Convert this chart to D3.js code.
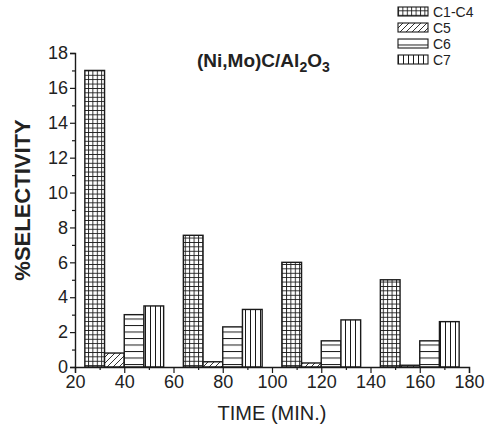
<!DOCTYPE html>
<html><head><meta charset="utf-8">
<script src="https://cdn.jsdelivr.net/npm/d3@7"></script>
<style>body{margin:0;background:#fff;}svg{display:block;font-family:"Liberation Sans",Arial,sans-serif;}</style>
</head><body>
<script>
const times = [40, 80, 120, 160];
const seriesNames = ["C1-C4", "C5", "C6", "C7"];
const c1c4 = [17.0, 7.55, 6.0, 5.0];
const c5 = [0.8, 0.3, 0.23, 0.1];
const c6 = [3.0, 2.3, 1.5, 1.5];
const c7 = [3.5, 3.3, 2.7, 2.6];
const xTicks = [20, 40, 60, 80, 100, 120, 140, 160, 180];
const yTicks = [0, 2, 4, 6, 8, 10, 12, 14, 16, 18];
const barWidth = 8; // minutes
const seriesVals = [c1c4, c5, c6, c7];
const patternIds = ["pGrid", "pDiag", "pHoriz", "pVert"];

const W = 487, H = 426;
const svg = d3.select("body").append("svg").attr("width", W).attr("height", H);
const defs = svg.append("defs");
const ink = "#1a1a1a";
let p = defs.append("pattern").attr("id","pGrid").attr("patternUnits","userSpaceOnUse").attr("width",4.4).attr("height",4.4);
p.append("rect").attr("width",4.4).attr("height",4.4).attr("fill","#fff");
p.append("path").attr("d","M0,0.5H4.4M0.5,0V4.4").attr("stroke",ink).attr("stroke-width",0.9);
p = defs.append("pattern").attr("id","pDiag").attr("patternUnits","userSpaceOnUse").attr("width",6).attr("height",6);
p.append("rect").attr("width",6).attr("height",6).attr("fill","#fff");
p.append("path").attr("d","M-1,7L7,-1M-4,4L4,-4M2,10L10,2").attr("stroke",ink).attr("stroke-width",0.9);
p = defs.append("pattern").attr("id","pHoriz").attr("patternUnits","userSpaceOnUse").attr("width",10).attr("height",6.5);
p.append("rect").attr("width",10).attr("height",6.5).attr("fill","#fff");
p.append("path").attr("d","M0,0.5H10").attr("stroke",ink).attr("stroke-width",1);
p = defs.append("pattern").attr("id","pVert").attr("patternUnits","userSpaceOnUse").attr("width",5).attr("height",10);
p.append("rect").attr("width",5).attr("height",10).attr("fill","#fff");
p.append("path").attr("d","M0.5,0V10").attr("stroke",ink).attr("stroke-width",1);

const x = d3.scaleLinear().domain([20,180]).range([75,469]);
const y = d3.scaleLinear().domain([0,18]).range([367,53]);

seriesVals.forEach((vals, si) => {
  svg.append("g").selectAll("rect").data(vals).join("rect")
    .attr("x", (d,i) => x(times[i] - 2*barWidth + si*barWidth))
    .attr("width", (d,i) => x(times[i] - 2*barWidth + (si+1)*barWidth) - x(times[i] - 2*barWidth + si*barWidth))
    .attr("y", d => y(d))
    .attr("height", d => y(0) - y(d))
    .attr("fill", `url(#${patternIds[si]})`)
    .attr("stroke", ink).attr("stroke-width", 1.4);
});

const xMinor = d3.range(30,180,20);
const yMinor = d3.range(1,18,2);
svg.append("g").attr("transform",`translate(0,${y(0)})`)
  .call(d3.axisBottom(x).tickValues(xTicks).tickSize(6).tickPadding(2).tickFormat(d3.format("d")));
svg.append("g").attr("transform",`translate(0,${y(0)})`)
  .call(d3.axisBottom(x).tickValues(xMinor).tickSize(3).tickFormat(""))
  .select(".domain").remove();
svg.append("g").attr("transform",`translate(${x(20)},0)`)
  .call(d3.axisLeft(y).tickValues(yTicks).tickSize(5).tickPadding(2).tickFormat(d3.format("d")));
svg.append("g").attr("transform",`translate(${x(20)},0)`)
  .call(d3.axisLeft(y).tickValues(yMinor).tickSize(3).tickFormat(""))
  .select(".domain").remove();
svg.selectAll(".domain").attr("stroke",ink).attr("stroke-width",1.4);
svg.selectAll(".tick line").attr("stroke",ink).attr("stroke-width",1.2);
svg.selectAll(".tick text").attr("font-size",18).attr("fill","#222").attr("font-family","'Liberation Sans',Arial,sans-serif");

svg.append("text").attr("x", 272).attr("y", 420).attr("text-anchor","middle")
  .attr("font-size",20).attr("fill","#222").text("TIME (MIN.)");
svg.append("text").attr("transform","translate(30,200) rotate(-90)").attr("text-anchor","middle")
  .attr("font-size",22).attr("font-weight","bold").attr("fill","#222").text("%SELECTIVITY");

const t = svg.append("text").attr("x",197).attr("y",67).attr("font-size",19).attr("font-weight","bold").attr("fill","#222");
t.append("tspan").text("(Ni,Mo)C/Al");
t.append("tspan").attr("dy",5).attr("font-size",14).text("2");
t.append("tspan").attr("dy",-5).text("O");
t.append("tspan").attr("dy",5).attr("font-size",14).text("3");

const lg = svg.append("g").attr("transform","translate(398,6)");
seriesNames.forEach((n, i) => {
  const row = lg.append("g").attr("transform",`translate(0,${i*16})`);
  row.append("rect").attr("x",0).attr("y",1).attr("width",30).attr("height",9)
    .attr("fill",`url(#${patternIds[i]})`).attr("stroke",ink).attr("stroke-width",1.1);
  row.append("text").attr("x",35).attr("y",10.5).attr("font-size",14).attr("fill","#222").text(n);
});
</script>
</body></html>
